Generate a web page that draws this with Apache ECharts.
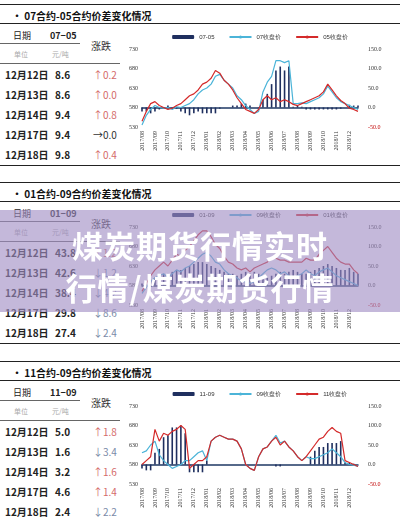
<!DOCTYPE html>
<html><head><meta charset="utf-8">
<script src="https://cdn.jsdelivr.net/npm/echarts@6/dist/echarts.min.js"></script>
<style>
body{margin:0;width:400px;height:522px;background:#fff;position:relative;overflow:hidden;font-family:"Noto Sans CJK SC","Noto Sans",sans-serif;}
.a{position:absolute;white-space:nowrap;}
.hl{position:absolute;height:0;border-top:1px solid #222;}
</style></head><body>
<script>
const months=["2017/08","2017/09","2017/10","2017/11","2017/12","2018/01","2018/02","2018/03","2018/04","2018/05","2018/06","2018/07","2018/08","2018/09","2018/10","2018/11","2018/12"];
const categories=[];months.forEach(m=>{categories.push(m,m+" ",m+"  ");});
const tickLabels=months;
// panel 1
const p1Title="07合约-05合约价差变化情况";
const p1Names=["07-05","07收盘价","05收盘价"];
const p1Dates=["12月12日","12月13日","12月14日","12月17日","12月18日"];
const p1Vals=["8.6","8.6","9.4","9.4","9.8"];
const p1Chg=["↑0.2","↑0.0","↑0.8","→0.0","↑0.4"];
const p1Spread=[-10,-10,-15,-10,-5,-2,5,-3,-3,-10,-15,-20,-15,-10,-15,-15,-15,-15,-3,0,0,5,5,10,10,5,0,-5,20,35,60,95,105,95,105,2,5,2,-5,-5,-5,-5,-5,-5,-5,-5,-3,0,7,5,5];
const p1A=[535,560,575,585,580,578,580,575,582,580,585,590,600,615,625,630,640,660,665,650,640,630,610,600,585,575,565,570,620,645,660,700,700,695,700,590,590,592,590,595,600,605,615,635,620,605,595,590,585,580,575];
const p1B=[545,570,590,595,585,580,575,578,585,590,600,610,615,625,640,645,655,675,668,650,640,625,605,590,575,570,565,575,600,610,600,605,595,600,595,588,585,590,595,600,605,610,620,640,625,610,598,590,578,575,570];
// panel 2
const p2Title="01合约-09合约价差变化情况";
const p2Names=["01-09","09收盘价","01收盘价"];
const p2Dates=["12月12日","12月13日","12月14日","12月17日","12月18日"];
const p2Vals=["43.8","42.6","38.4","29.8","27.4"];
const p2Chg=["↑1.2","↓1.2","↓4.2","↓8.6","↓2.4"];
const p2Spread=[5,10,15,20,25,30,30,35,40,40,45,50,55,60,60,55,50,45,40,35,30,30,25,30,35,30,35,30,25,20,25,30,35,30,35,40,35,30,30,35,40,45,50,55,50,45,40,40,45,35,30];
const p2A=[560,575,590,600,605,610,600,610,620,615,625,630,640,650,660,665,655,640,635,620,610,605,600,590,590,585,590,600,610,620,625,620,610,615,605,600,605,610,620,610,605,615,620,625,615,605,600,595,590,585,580];
const p2B=[565,585,605,620,630,640,630,645,660,655,670,680,695,710,720,720,705,685,675,655,640,635,625,620,625,615,625,630,635,640,650,650,645,645,640,640,640,640,650,645,645,660,670,680,665,650,640,635,635,620,610];
// panel 3
const p3Title="11合约-09合约价差变化情况";
const p3Names=["11-09","09收盘价","11收盘价"];
const p3Dates=["12月12日","12月13日","12月14日","12月17日","12月18日"];
const p3Vals=["5.0","1.6","3.2","4.6","2.4"];
const p3Chg=["↑1.8","↓3.4","↑1.6","↑1.4","↓2.2"];
const p3Spread=[-10,-15,-15,30,40,70,75,95,95,100,80,-20,-20,-20,-20,10,0,0,0,0,0,0,0,0,0,0,0,0,0,0,0,-5,-5,0,0,0,0,0,0,20,35,45,45,55,55,55,60,5,5,2,0];
const p3A=[610,615,630,640,605,590,580,570,575,580,590,590,600,610,615,590,640,650,655,650,645,645,640,620,580,570,565,600,620,625,640,655,635,640,625,615,600,590,600,595,595,600,605,610,620,610,600,585,580,578,575];
const p3B=[580,590,600,670,640,660,655,665,670,680,670,570,580,590,590,600,640,650,655,650,645,645,640,620,580,570,565,600,620,625,640,650,630,640,625,615,600,590,600,615,630,645,650,665,675,665,660,590,585,580,575];

function addDiv(cls,txt,css){const d=document.createElement('div');d.className=cls;d.textContent=txt||'';Object.assign(d.style,css);document.body.appendChild(d);return d;}

function panel(top,title,names,dates,vals,chg,spread,A,B,colA,colB){
  addDiv('hl','',{left:'0px',top:top+'px',width:'400px'});
  addDiv('a','• '+title,{left:'12px',top:(top+4)+'px',fontSize:'10px',fontWeight:'bold',color:'#111'});
  addDiv('hl','',{left:'0px',top:(top+19)+'px',width:'400px'});
  addDiv('a','日期',{left:'13px',top:(top+25)+'px',fontSize:'9px',color:'#222'});
  addDiv('a',names[0].replace('-','−'),{left:'50px',top:(top+25)+'px',fontSize:'9px',fontWeight:'bold',color:'#222'});
  addDiv('hl','',{left:'0px',top:(top+39)+'px',width:'80px',borderTopColor:'#666'});
  addDiv('a','涨跌',{left:'91px',top:(top+34)+'px',fontSize:'10px',color:'#333'});
  addDiv('a','单位',{left:'14px',top:(top+45)+'px',fontSize:'7px',color:'#aaa'});
  addDiv('a','元/吨',{left:'52px',top:(top+45)+'px',fontSize:'7px',color:'#aaa'});
  addDiv('hl','',{left:'0px',top:(top+59)+'px',width:'120px',borderTopColor:'#666'});
  for(let i=0;i<5;i++){
    const y=top+63+i*20;
    addDiv('a',dates[i],{left:'5px',top:y+'px',fontSize:'10px',fontWeight:'600',color:'#222'});
    addDiv('a',vals[i],{left:'55px',top:y+'px',fontSize:'10px',fontWeight:'600',color:'#222'});
    const up=chg[i][0]==='↑';
    addDiv('a',chg[i],{left:'93px',top:y+'px',fontSize:'10px',color:up?'#d46a6a':(chg[i][0]==='↓'?'#7a8aa8':'#333')});
  }
  addDiv('hl','',{left:'0px',top:(top+161)+'px',width:'400px'});
  const d=addDiv('a','',{left:'125px',top:(top+22)+'px',width:'270px',height:'138px'});
  const c=echarts.init(d);
  const fs={fontSize:6,color:'#333',fontFamily:'Liberation Serif'};
  c.setOption({animation:false,
    legend:{top:3,left:'center',itemWidth:22,itemHeight:4,itemGap:14,textStyle:{fontSize:6,color:'#333'},data:names},
    grid:{left:17,right:37,top:23,height:78},
    xAxis:{type:'category',data:categories,boundaryGap:false,
      axisLine:{lineStyle:{color:'#1f3864',width:1.5}},axisTick:{show:false},
      axisLabel:{interval:2,rotate:90,fontSize:6,color:'#333',fontFamily:'Liberation Serif',margin:4,formatter:v=>v.trim()}},
    yAxis:[{type:'value',min:530,max:730,interval:50,splitLine:{show:false},axisLine:{show:false},axisTick:{show:false},axisLabel:Object.assign({margin:4},fs)},
      {type:'value',min:-50,max:150,interval:50,splitLine:{show:false},axisLine:{show:false},axisTick:{show:false},
       axisLabel:{margin:10,fontSize:6,color:'#333',fontFamily:'Liberation Serif',formatter:v=>v<0?'{r|'+v.toFixed(1)+'}':v.toFixed(1),rich:{r:{color:'#c00000',fontSize:6,fontFamily:'Liberation Serif'}}}}],
    series:[
      {name:names[0],type:'bar',yAxisIndex:1,data:spread,barWidth:1.6,itemStyle:{color:'#1f2f5f'}},
      {name:names[1],type:'line',data:A,symbol:'none',lineStyle:{color:colA,width:1.2},itemStyle:{color:colA}},
      {name:names[2],type:'line',data:B,symbol:'none',lineStyle:{color:colB,width:1.2},itemStyle:{color:colB}}
    ]});
}
panel(4,p1Title,p1Names,p1Dates,p1Vals,p1Chg,p1Spread,p1A,p1B,'#4bb4d8','#d42a2a');
panel(182,p2Title,p2Names,p2Dates,p2Vals,p2Chg,p2Spread,p2A,p2B,'#4bb4d8','#d42a2a');
panel(361,p3Title,p3Names,p3Dates,p3Vals,p3Chg,p3Spread,p3A,p3B,'#4bb4d8','#d42a2a');

addDiv('a','',{left:'0px',top:'210px',width:'400px',height:'102px',background:'rgba(160,140,195,0.62)',zIndex:10});
addDiv('a','煤炭期货行情实时',{left:'0px',width:'400px',textAlign:'center',top:'222px',fontSize:'31px',fontWeight:'bold',color:'#fff',zIndex:11,letterSpacing:'1px'});
addDiv('a','行情/煤炭期货行情',{left:'0px',width:'400px',textAlign:'center',top:'264px',fontSize:'31px',fontWeight:'bold',color:'#fff',zIndex:11,letterSpacing:'1px'});
</script>
</body></html>
